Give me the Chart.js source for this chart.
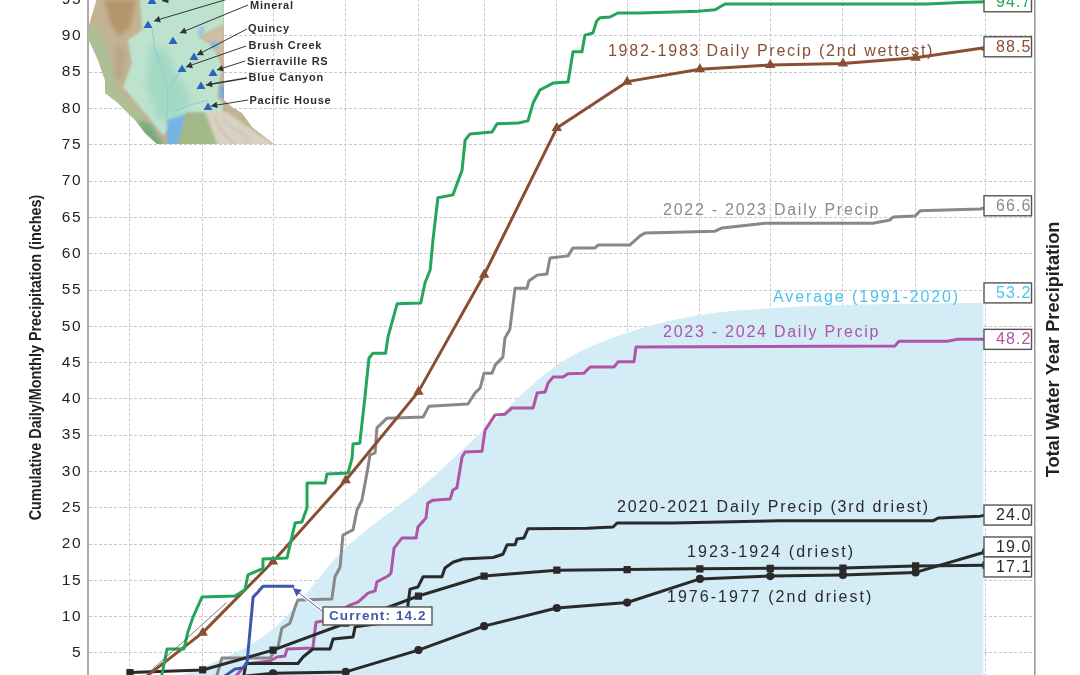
<!DOCTYPE html>
<html><head><meta charset="utf-8">
<style>html,body{margin:0;padding:0;background:#fff;overflow:hidden;width:1080px;height:675px}
#wrap{position:absolute;left:0;top:-60px;width:1080px;height:800px}</style>
<script src="https://cdn.jsdelivr.net/npm/chart.js@4"></script>
</head><body><div id="wrap"><canvas id="c" width="1080" height="800"></canvas></div>
<script>
// Water-year day of each month start (Oct 1 = 0)
const monthDays=[0,31,61,92,123,151,182,212,243,273,304,335,365];
const yTicks=[5,10,15,20,25,30,35,40,45,50,55,60,65,70,75,80,85,90,95];

const avgDays=[0,31,61,92,123,151,182,212,243,273,304,335,364];
const avgInches=[0,3.05,8.3,19.45,27.45,35.7,44.65,49.1,51.55,52.5,52.95,53.1,53.2];
const brown8283=[0,7.8,17.6,28.8,41,57.1,77.3,83.7,85.4,86,86.2,87,88.4];
const black2324=[2.3,2.66,5.4,9.1,12.85,15.6,16.4,16.5,16.6,16.67,16.7,17,17.1];
const black7677=[0.7,1.2,2.2,2.4,5.4,8.7,11.2,11.95,15.2,15.6,15.75,16.1,18.95];

const greenDays=[0,13,13.6,15.8,23,24.7,26.9,30.7,44.8,49,50.3,56.3,56.7,67,70.4,73.3,75.5,75.5,83.2,84,93,94.7,95.1,98,100.2,101.9,103.6,109,110,113.9,124,125.8,128,129.2,131.3,137.7,141.6,142.9,145,154.4,156.5,165.5,169.7,171.9,174.8,180.4,186.8,188.9,192.7,194,197.4,199,200.4,204.7,208,217.5,242.2,249.5,253.7,339.9,354,365];
const greenInches=[0,0.5,1.97,5.55,5.55,7.9,9.96,12.7,12.85,13.7,15.75,16.6,17.95,18.1,22.9,23.05,25,28.4,28.4,29.65,29.8,31.85,33.8,33.9,40.3,45.6,46.3,46.3,48.5,53.1,53.2,56,57.75,61.9,67.7,68.1,71.5,75.65,76.5,76.75,77.9,78,78.3,80.75,82.55,83.5,83.65,87.8,87.8,90.1,90.4,92.05,92.5,92.6,93.15,93.15,93.4,93.6,94.4,94.4,94.6,94.7];

const grayDays=[0,36,37.1,39.2,59.7,63.1,64.8,68.2,70.4,71.6,86.1,87.4,89.6,90.8,95.1,96.8,98.9,101.5,102.3,104.5,105.3,109.6,125,127.5,144.1,147.1,149.3,151,154.4,155.7,159,159.9,162,164.2,169.3,170.1,173.6,177.8,179.1,186.8,188.9,198.3,199.6,213.2,217.5,219.6,249.5,252.5,270.8,316.8,324.1,325.4,334.8,336.9,362.5,365];
const grayInches=[0,0.8,1.97,4.3,4.3,5.8,8.45,9.1,11.3,12.3,12.45,15.5,16.85,21.25,21.95,24.7,26.05,30.6,32.25,32.55,36,37.35,37.5,39,39.3,40.8,41.5,43.55,43.55,44.65,45.75,48.4,49.6,55.25,55.25,56.25,57.05,57.2,59.4,59.7,60.8,60.8,61.2,61.2,62.45,62.85,63.1,63.55,64.2,64.2,64.65,65.05,65.2,65.9,66.15,66.35];

const purpleDays=[0,40,45.6,49.5,59.7,62.7,66.1,67,78,79.3,82.3,93.8,97.2,101.5,104.5,105.3,110,111.3,112.6,116,122,122.8,126.2,127,129.2,136.5,137.7,139.4,141.6,142.9,150.1,151.4,155.7,159.9,162.9,171.9,173.6,177,178.3,180.4,184.6,186.8,193.6,196.2,206.4,208.1,214.9,215.8,326.2,327.9,348.4,352.7,365];
const purpleInches=[0,0.5,1.97,3.5,3.9,4.45,4.6,5.55,5.7,9.25,9.4,11.6,12,13.25,13.55,14.8,15.6,16,19.45,20.85,20.85,22.35,23.6,25.65,26.05,26.2,27.45,27.75,32,32.7,32.8,35.7,37.8,37.9,38.75,38.75,40.8,40.95,42.2,43,43,43.45,43.55,44.4,44.4,45.1,45.1,47.15,47.3,47.95,47.95,48.2,48.2];

const blackDays=[0,40,48.2,49.5,71.6,73.8,78,85.3,86.6,95.1,96,117.7,119.4,122.8,125,133,134.3,137.7,142,154.8,159,160.8,164.2,165,168,169.7,194.9,206,207.7,231.6,277,342.4,344.6,362.5,365];
const blackInches=[0,0.5,1.3,3.55,3.55,4.45,5.55,5.55,6.93,7.2,8.6,9.55,13.8,14.1,15.5,15.5,16.7,17.5,17.95,18.15,18.6,19.9,19.9,20.7,20.85,22.1,22.2,22.35,22.9,22.9,23.2,23.2,23.6,23.85,24];

const currentDays=[0,40,40.5,44.8,48.2,49.9,51.2,52.5,54.6,56.7,69.5];
const currentInches=[0,0.5,1.85,2.8,2.95,3.6,8.15,12.7,13.4,14.2,14.2];

const strayDays=[7.7,41];
const strayInches=[2.2,11.9];

const boxLabels=['94.7','88.5','66.6','53.2','48.2','24.0','19.0','17.1'];
const boxInches=[94.7,88.5,66.6,54.6,48.2,24,19.6,16.85];
const boxColors=['#24a65a','#8a4f32','#8a8a8a','#4cc3ee','#ae55a5','#2a2a2a','#2a2a2a','#2a2a2a'];

const seriesLabels=['1982-1983 Daily Precip (2nd wettest)','2022 - 2023 Daily Precip','Average (1991-2020)','2023 - 2024 Daily Precip','2020-2021 Daily Precip (3rd driest)','1923-1924 (driest)','1976-1977 (2nd driest)'];
const labelDays=[203.8,227.3,274.2,227.3,207.7,237.5,229];
const labelInches=[87.8,66,53.9,49.1,24.97,18.77,12.7];
const labelColors=['#8a4f32','#8a8a8a','#4cc3ee','#ae55a5','#2a2a2a','#2a2a2a','#2a2a2a'];
const labelTracking=['1.75px','1.75px','1.9px','1.75px','1.85px','2.08px','2.02px'];

const currentLabel='Current: 14.2';
const stations=['Mineral','Quincy','Brush Creek','Sierraville RS','Blue Canyon','Pacific House'];

const FONT='"Liberation Sans", Arial, sans-serif';
const zip=(xs,ys)=>xs.map((x,i)=>({x,y:ys[i]}));
const line=(data,color,w,extra)=>Object.assign({data,borderColor:color,backgroundColor:color,borderWidth:w,pointRadius:0,tension:0,borderJoinStyle:'round',borderCapStyle:'round',fill:false},extra||{});

function poly(ctx,pts,fill){ctx.beginPath();pts.forEach((p,i)=>i?ctx.lineTo(p[0],p[1]):ctx.moveTo(p[0],p[1]));ctx.closePath();ctx.fillStyle=fill;ctx.fill();}
function stroke(ctx,pts,color,w){ctx.beginPath();pts.forEach((p,i)=>i?ctx.lineTo(p[0],p[1]):ctx.moveTo(p[0],p[1]));ctx.strokeStyle=color;ctx.lineWidth=w;ctx.stroke();}
function arrow(ctx,x0,y0,x1,y1,color,size,w){
  const a=Math.atan2(y1-y0,x1-x0);
  ctx.strokeStyle=color;ctx.lineWidth=w;ctx.beginPath();ctx.moveTo(x0,y0);ctx.lineTo(x1,y1);ctx.stroke();
  poly(ctx,[[x1,y1],[x1-size*Math.cos(a-0.5),y1-size*Math.sin(a-0.5)],[x1-size*Math.cos(a+0.5),y1-size*Math.sin(a+0.5)]],color);
}
function drawMap(ctx){
  ctx.save();ctx.translate(0,60);
  const land=[[97,-2],[89,25],[88,38],[98,60],[105,80],[105,93],[118,103],[135,120],[145,133],[157,144],[274,144],[252,127],[242,113],[232,107],[224,100],[224,-2]];
  ctx.save();
  ctx.beginPath();land.forEach((p,i)=>i?ctx.lineTo(p[0],p[1]):ctx.moveTo(p[0],p[1]));ctx.closePath();ctx.clip();
  ctx.fillStyle='#c3b394';ctx.fillRect(85,-5,200,150);
  ctx.filter='blur(2px)';
  poly(ctx,[[86,25],[100,30],[112,60],[118,90],[140,112],[160,146],[140,146],[100,95],[92,60]],'#adbf95');
  poly(ctx,[[138,120],[150,124],[165,146],[148,146]],'#74ad7c');
  poly(ctx,[[104,0],[136,0],[130,28],[118,36],[110,22]],'#b3966b');
  poly(ctx,[[116,45],[126,50],[122,80],[114,78]],'#b9a684');
  ctx.filter='blur(1px)';
  poly(ctx,[[140,-2],[142,30],[128,40],[132,63],[123,87],[145,113],[163,135],[188,112],[222,115],[223,103],[217,97],[222,67],[213,45],[198,37],[224,25],[224,-2]],'#bde3cf');
  ctx.filter='blur(3px)';
  poly(ctx,[[150,45],[165,48],[178,75],[192,100],[176,118],[158,120],[146,85]],'#a3d9c4');
  ctx.filter='blur(1.5px)';
  poly(ctx,[[186,113],[206,113],[222,146],[176,146]],'#a2ba88');
  poly(ctx,[[205,112],[226,112],[276,146],[218,146]],'#d9d2c4');
  stroke(ctx,[[222,118],[232,128],[244,134],[250,144]],'#b9b0a0',1);
  stroke(ctx,[[214,116],[222,132],[234,144]],'#c2b497',1.2);
  poly(ctx,[[167,120],[186,114],[177,146],[167,146]],'#74b3e4');
  poly(ctx,[[199,36],[224,25],[224,62],[212,44]],'#cdbea4');
  poly(ctx,[[200,26],[205,28],[203,36],[198,34]],'#94c5e2');
  poly(ctx,[[210,43],[217,41],[218,48],[212,50]],'#85bbe2');
  poly(ctx,[[220,86],[227,86],[226,100],[221,98]],'#6ba8dc');
  ctx.filter='none';
  stroke(ctx,[[152,28],[155,50],[162,70],[168,90],[167,118]],'#8fcbd2',1);
  stroke(ctx,[[196,60],[180,72],[170,88]],'#8fcbd2',1);
  stroke(ctx,[[208,100],[190,105],[172,112]],'#8fcbd2',1);
  ctx.restore();
  [[152,1],[148,25],[173,41],[194,57],[182,69],[213,73],[201,86],[208,107]].forEach(t=>{
    poly(ctx,[[t[0],t[1]-4.5],[t[0]+4.5,t[1]+3],[t[0]-4.5,t[1]+3]],'#2b62bd');
  });
  const c='#333';
  arrow(ctx,248,5,180,33,c,7,1);arrow(ctx,228,-1,154,21,c,7,1);arrow(ctx,173,-1,162,1,c,7,1);
  arrow(ctx,247,29,197,55,c,7,1);arrow(ctx,246,46,186,67,c,7,1);arrow(ctx,245,61,217,70,c,7,1);
  arrow(ctx,247,78,206,85,c,7,1.4);arrow(ctx,248,100,211,106,c,7,1);
  ctx.fillStyle='#2e2e2e';ctx.font='bold 11px '+FONT;ctx.letterSpacing='0.75px';ctx.textAlign='left';ctx.textBaseline='middle';
  const sx=[250,248,248.5,247,248.5,249.5],sy=[5.5,29,46,61.5,78,101];
  stations.forEach((s,i)=>ctx.fillText(s,sx[i],sy[i]));
  ctx.restore();
}
const overlay={id:'overlay',
  beforeDraw(chart){chart.ctx.letterSpacing='1.5px';},
  beforeDatasetsDraw(chart){drawMap(chart.ctx);},
  afterDatasetsDraw(chart){
    const ctx=chart.ctx,xs=chart.scales.x,ys=chart.scales.y;
    ctx.save();
    ctx.textAlign='left';ctx.textBaseline='middle';
    // series labels
    ctx.font='16px '+FONT;
    seriesLabels.forEach((t,i)=>{ctx.letterSpacing=labelTracking[i];ctx.fillStyle=labelColors[i];ctx.fillText(t,xs.getPixelForValue(labelDays[i]),ys.getPixelForValue(labelInches[i]));});
    // end-of-year boxes
    const bx=Math.round(xs.getPixelForValue(364.3));
    boxLabels.forEach((t,i)=>{
      const cy=ys.getPixelForValue(boxInches[i]);
      ctx.fillStyle='#fff';ctx.strokeStyle='#555';ctx.lineWidth=1.4;
      ctx.fillRect(bx,cy-10,47.5,20);ctx.strokeRect(bx,cy-10,47.5,20);
      ctx.fillStyle=boxColors[i];ctx.font='16px '+FONT;ctx.letterSpacing='1.1px';ctx.textAlign='right';
      ctx.fillText(t,bx+47.5,cy+0.5);ctx.textAlign='left';
    });
    // current callout
    const cx=xs.getPixelForValue(69.5),cy=ys.getPixelForValue(14.2);
    const lx=xs.getPixelForValue(82.3),ly=ys.getPixelForValue(10.1);
    ctx.strokeStyle='#fff';ctx.lineWidth=3.5;ctx.beginPath();ctx.moveTo(cx+2,cy+3);ctx.lineTo(lx,ly-4);ctx.stroke();
    arrow(ctx,lx,ly-4,cx,cy+2,'#4458a8',9,1);
    ctx.fillStyle='#fff';ctx.strokeStyle='#555';ctx.lineWidth=1.4;
    ctx.fillRect(lx,ly-9,109,18);ctx.strokeRect(lx,ly-9,109,18);
    ctx.fillStyle='#4458a8';ctx.font='bold 13.5px '+FONT;ctx.letterSpacing='1.1px';
    ctx.fillText(currentLabel,lx+6,ly+0.5);
    // axis titles
    ctx.fillStyle='#222';ctx.letterSpacing='0px';ctx.textAlign='center';
    ctx.font='bold 16px '+FONT;
    ctx.save();ctx.translate(37,417.5);ctx.rotate(-Math.PI/2);ctx.scale(0.9,1);ctx.fillText('Cumulative Daily/Monthly Precipitation (inches)',0,0);ctx.restore();
    ctx.font='bold 18.2px '+FONT;
    ctx.save();ctx.translate(1054,409.5);ctx.rotate(-Math.PI/2);ctx.fillText('Total Water Year Precipitation',0,0);ctx.restore();
    ctx.restore();
  }
};
new Chart(document.getElementById('c'),{
  type:'line',
  data:{datasets:[
    line(zip(currentDays,currentInches),'#3f56ae',3),
    line(zip(strayDays,strayInches),'#444',0.7),
    line(zip(greenDays,greenInches),'#24a65a',3),
    line(zip(monthDays,brown8283),'#8a4f32',3,{pointRadius:3,pointStyle:'triangle'}),
    line(zip(blackDays,blackInches),'#2a2a2a',3),
    line(zip(monthDays,black2324),'#2a2a2a',3,{pointRadius:3,pointStyle:'rect'}),
    line(zip(monthDays,black7677),'#2a2a2a',3,{pointRadius:2.6,pointStyle:'circle'}),
    line(zip(grayDays,grayInches),'#888888',3),
    line(zip(purpleDays,purpleInches),'#ae55a5',3),
    {data:zip(avgDays,avgInches),borderWidth:0,pointRadius:0,backgroundColor:'#d3ecf5',fill:'origin',cubicInterpolationMode:'monotone'}
  ]},
  options:{
    responsive:false,animation:false,
    layout:{padding:{left:0,right:45,top:23.3,bottom:50.7}},
    plugins:{legend:{display:false},tooltip:{enabled:false},title:{display:false}},
    scales:{
      x:{type:'linear',min:-17.9,max:385.9,
        afterBuildTicks(s){s.ticks=monthDays.map(v=>({value:v}));},
        afterFit(s){s.height=0;},
        ticks:{display:false},
        grid:{color:'#c8c8c8',lineWidth:1,drawTicks:false},
        border:{display:false,dash:[3,2]}},
      y:{type:'linear',min:0,max:100,
        afterBuildTicks(s){s.ticks=yTicks.map(v=>({value:v}));},
        afterFit(s){s.width=88;},
        ticks:{padding:6,color:'#222',font:{family:FONT,size:15.5},callback:v=>String(v)},
        grid:{color:'#c8c8c8',lineWidth:1,drawTicks:false},
        border:{display:true,color:'#ababab',width:2,dash:[3,2]}},
      y2:{type:'linear',position:'right',min:0,max:100,
        afterFit(s){s.width=0;},
        ticks:{display:false},
        grid:{drawOnChartArea:false,drawTicks:false},
        border:{display:true,color:'#9a9a9a',width:1.6}}
    }
  },
  plugins:[overlay]
});
</script></body></html>
